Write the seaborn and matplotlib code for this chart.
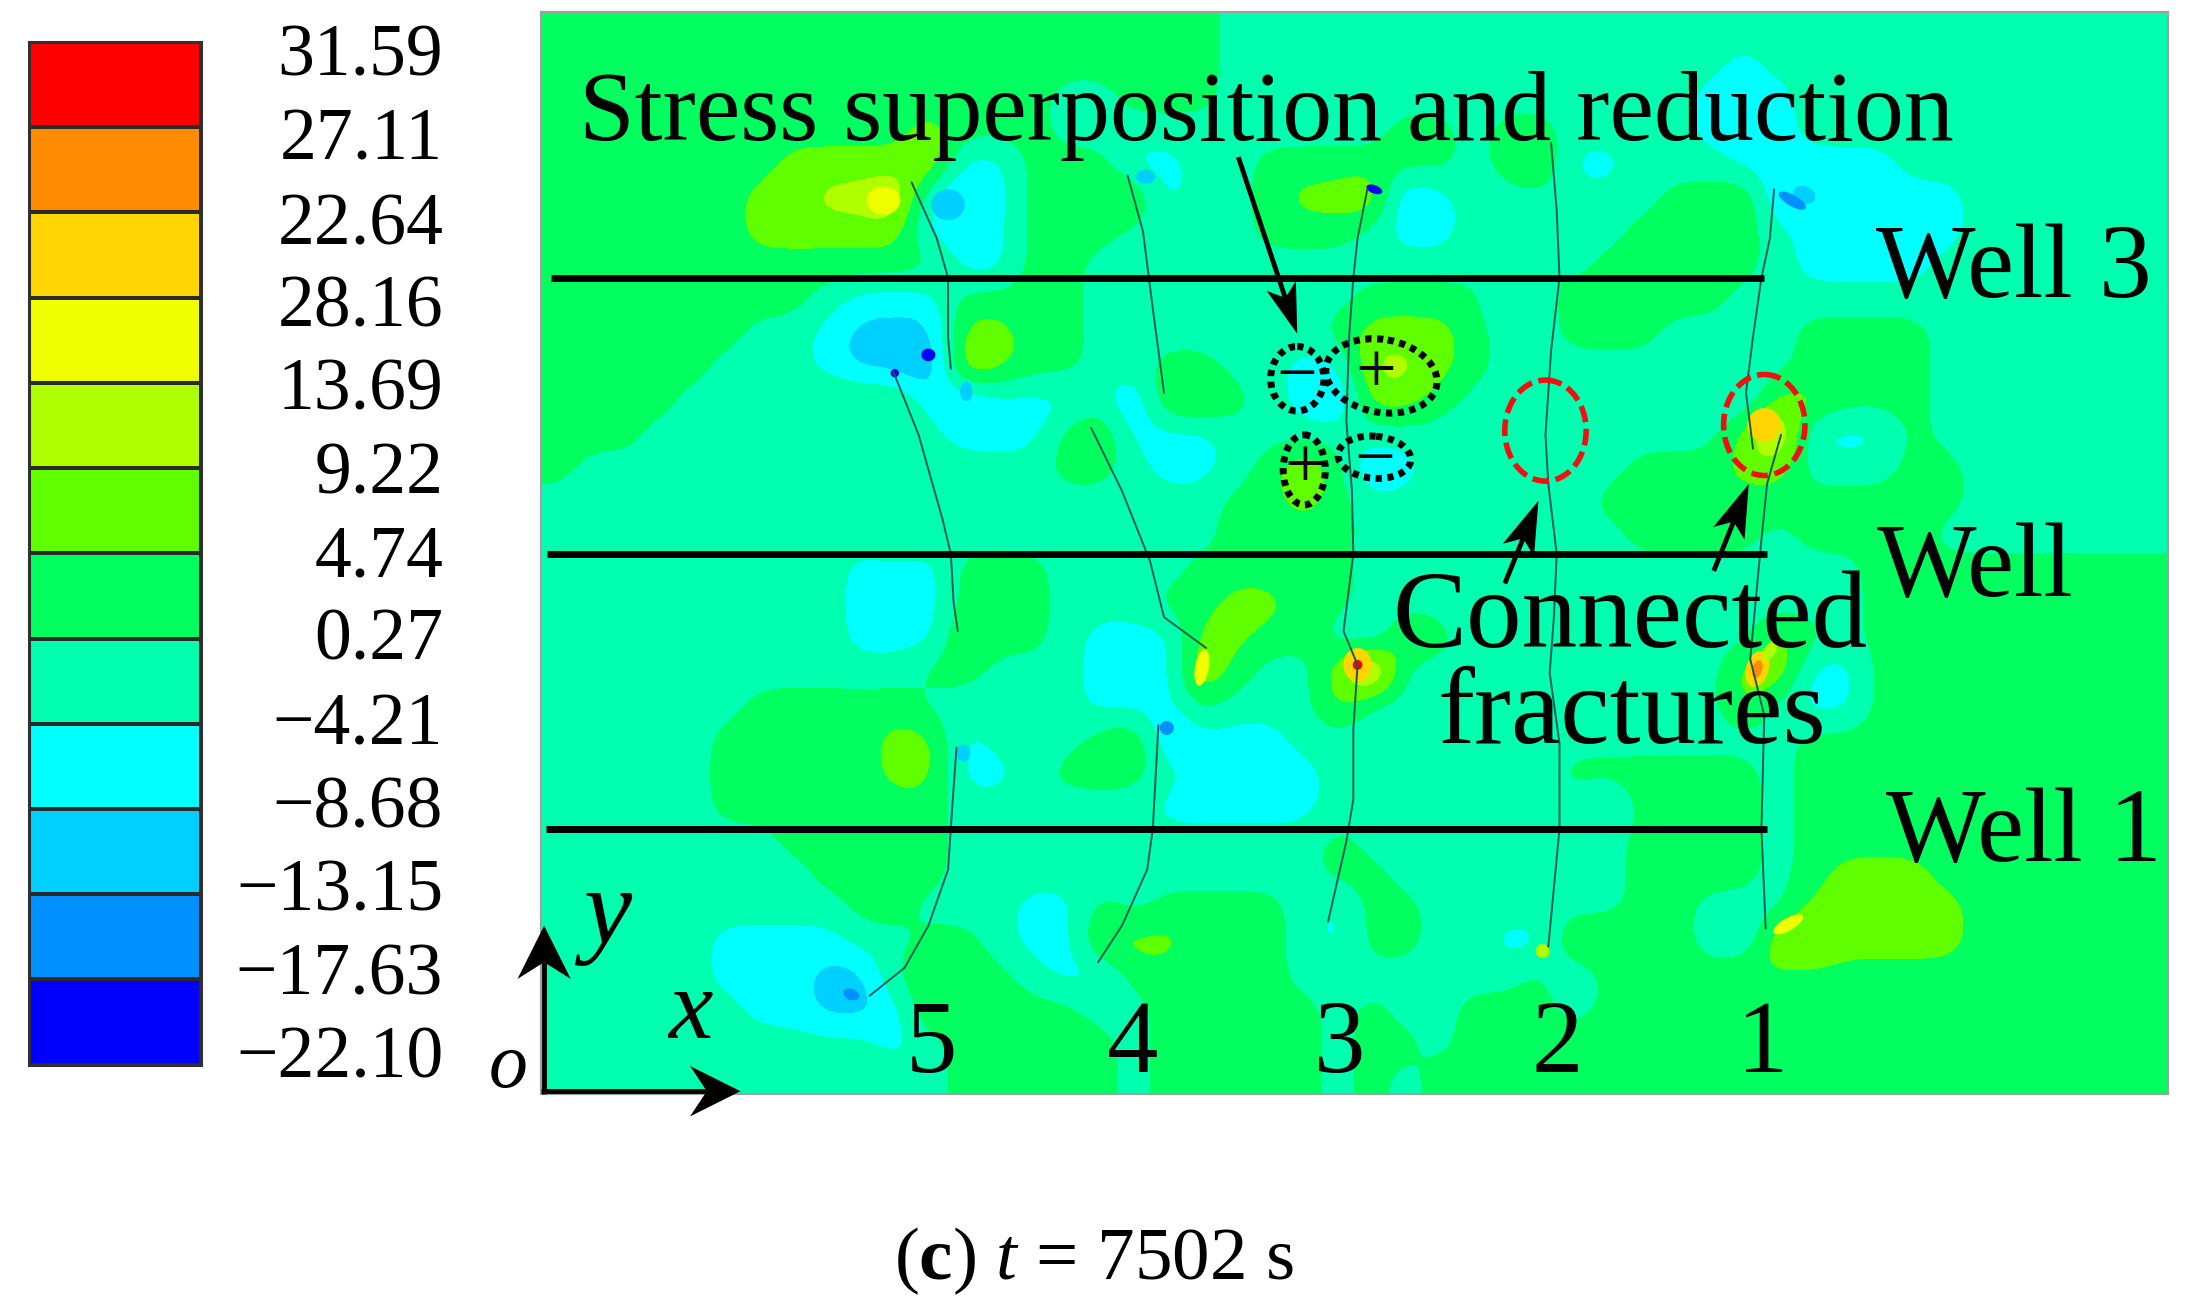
import numpy as np
import matplotlib
matplotlib.use("Agg")
import matplotlib.pyplot as plt
from matplotlib.colors import ListedColormap, BoundaryNorm
from matplotlib.patches import Ellipse, Polygon, Rectangle
import seaborn as sns

sns.set_theme(style="white")
plt.rcParams["font.family"] = ["Liberation Serif", "DejaVu Serif"]
plt.rcParams["text.color"] = "black"
plt.rcParams["mathtext.fontset"] = "custom"
plt.rcParams["mathtext.rm"] = "Liberation Serif"
plt.rcParams["mathtext.it"] = "Liberation Serif:italic"
plt.rcParams["mathtext.bf"] = "Liberation Serif:bold"

# ---------------- data ----------------
level_labels = ["31.59", "27.11", "22.64", "28.16", "13.69", "9.22", "4.74",
                "0.27", "\u22124.21", "\u22128.68", "\u221213.15", "\u221217.63", "\u221222.10"]
level_edges = [-22.10, -17.63, -13.15, -8.68, -4.21, 0.27, 4.74, 9.22, 13.69, 18.16, 22.64, 27.11, 31.59]
band_letters = "abcdefghijkl"
band_colors = ["#0000ff", "#0090ff", "#00d0ff", "#00ffff", "#00ffaf", "#00ff5f",
               "#60ff00", "#b0ff00", "#f0ff00", "#ffd500", "#ff8c00", "#ff0000"]

# stress band per coarse cell, row by row from the top, as runs
field_runs = [
    "f20 e28",
    "f20 e15 d1 e12",
    "f15 e2 f3 e14 d3 e11",
    "f11 g1 f3 e10 f2 e1 f2 e4 d3 e11",
    "f7 g4 h1 d2 f3 d2 e2 f6 e1 f1 g1 d2 e3 d5 e8",
    "f6 g2 h2 i1 d1 c1 d1 f2 g2 d1 e2 f1 g2 h1 c1 d1 e6 f2 g1 c2 d4 e6",
    "f6 g5 d3 f3 e4 f3 e1 d2 e5 f4 e1 d5 e6",
    "f12 d2 f2 e13 f1 e1 f5 e1 d4 e7",
    "f8 e1 d3 f4 e8 f4 d1 e1 f5 e13",
    "f6 e2 d1 c3 g2 f2 e7 f1 g3 f1 e2 f3 e4 f4 e7",
    "f5 e3 d1 c2 b1 h1 g1 f2 e2 f2 e2 d2 h2 g1 f1 e9 f4 e7",
    "f4 e4 f3 d1 c1 d3 e1 c1 g2 f1 e1 d1 c1 g2 f1 e8 d1 g2 f3 e7",
    "f3 e9 d3 f1 g1 d3 e15 g1 j1 d3 f1 e7",
    "f1 e14 f2 e1 d2 e1 f1 h1 f1 c1 d1 e6 f3 g2 e3 f2 e6",
    "e20 f2 g1 f1 e7 f11 e6",
    "e10 f1 e9 f4 e8 f4 e1 f4 e7",
    "e9 d3 f3 e4 f5 e15 f9",
    "e9 d3 f3 e3 f2 g2 f2 e15 f9",
    "e9 d3 g1 f2 e1 d3 g2 f2 e1 d1 g1 f1 e9 g1 f1 e1 f9",
    "e11 f2 e3 d3 h1 f1 e2 g1 k1 e10 g1 h1 d2 f9",
    "e6 f5 e5 d3 f1 e3 g1 e11 g1 e1 d2 f9",
    "e5 f5 g2 d1 e3 f1 g1 c1 d3 e15 f11",
    "e5 f5 g2 d2 e1 f3 e1 d4 e7 f6 e1 f11",
    "e5 f7 e6 d5 e5 f1 e2 d1 f4 e1 f11",
    "e7 f5 e11 f1 e8 f4 e1 f11",
    "e8 f4 e11 f2 e4 f1 e2 f4 e1 f1 g3 f7",
    "e9 f2 e3 d2 f1 e1 f4 e1 d1 f2 e6 f2 e3 g5 f6",
    "e5 d4 e2 f2 e1 d2 g3 f3 e1 d1 f2 e2 d2 g2 f2 e1 d1 h2 g4 f6",
    "e5 d3 c2 f4 e1 d2 f5 e7 f1 d1 f4 g1 f12",
    "e6 d2 c2 d1 g1 f4 e2 f5 e1 f1 e2 f3 e1 f17",
    "e10 d1 e1 f5 e1 f5 e1 f2 e1 f21",
    "e12 f5 e1 f5 e1 f1 e1 f22",
]

# small concentrated spots at fracture tips: x, y, width, height, angle, band
spot_x = [662, 638, 980, 1278, 968, 968, 1253, 1253, 1258, 630, 607, 832, 687, 817, 676, 1275, 857, 1262, 689, 1100]
spot_y = [253, 266, 135, 143, 474, 474, 477, 477, 303, 143, 709, 519, 537, 126, 146, 659, 476, 464, 279, 678]
spot_w = [10, 6, 12, 22, 20, 7, 16, 7, 24, 24, 12, 10, 10, 14, 24, 24, 10, 8, 9, 10]
spot_h = [9, 6, 6, 8, 24, 7, 26, 13, 24, 20, 8, 10, 12, 10, 22, 9, 26, 16, 14, 10]
spot_a = [0, 0, 20, 30, 0, 0, 15, 15, 0, 0, 20, 30, 0, 0, 0, -30, 10, 30, 0, 0]
spot_b = ["a", "a", "a", "b", "j", "l", "j", "k", "j", "i", "b", "b", "c", "c", "c", "i", "i", "h", "c", "h"]

# fracture traces
frac_traces = [
    ([650, 668, 676, 676, 678], [130, 170, 198, 240, 263]),
    ([637, 655, 672, 678, 680, 683], [265, 310, 370, 395, 430, 450]),
    ([682, 678, 676, 662, 645, 620], [533, 590, 620, 660, 690, 710]),
    ([804, 815, 822, 830], [125, 165, 220, 280]),
    ([778, 800, 820, 830, 860], [305, 350, 400, 440, 462]),
    ([826, 822, 818, 800, 783], [517, 591, 620, 660, 686]),
    ([975, 968, 965, 962, 960, 964, 965, 958, 968, 965, 965, 960, 947],
     [135, 170, 198, 240, 300, 350, 395, 450, 474, 520, 570, 600, 657]),
    ([1106, 1110, 1112, 1106, 1102, 1104, 1110, 1108, 1105, 1112, 1112, 1104],
     [102, 150, 198, 250, 310, 345, 395, 440, 480, 530, 591, 675]),
    ([1265, 1262, 1256, 1250, 1245, 1250], [135, 170, 198, 240, 280, 320]),
    ([1270, 1260, 1255, 1248, 1258, 1256, 1259], [310, 345, 395, 470, 510, 591, 662]),
]
well_y = [198, 395, 591]
well_x0 = [393, 390, 389]
well_x1 = [1258, 1260, 1260]
frac_numbers = ["5", "4", "3", "2", "1"]
frac_number_x = [664, 808, 955, 1110, 1257]

# ---------------- build ----------------
def expand(run):
    return [band_letters.index(tok[0]) for tok in run.split() for _ in range(int(tok[1:]))]

mids = [(level_edges[i] + level_edges[i + 1]) / 2 for i in range(12)]
Z = np.array([[mids[b] for b in expand(r)] for r in field_runs])

W, H = 2199, 1310
fig = plt.figure(figsize=(W / 100, H / 100), dpi=100, facecolor="white")
ax = fig.add_axes([0, 0, 1, 1])
ax.set_xlim(0, 1568)
ax.set_ylim(934, 0)
ax.axis("off")

cmap = ListedColormap(band_colors)
norm = BoundaryNorm(level_edges, 12)
ax.imshow(Z, extent=(386, 1546, 780, 9), cmap=cmap, norm=norm, aspect="auto",
          interpolation="bicubic", interpolation_stage="data", zorder=1)
ax.set_xlim(0, 1568)
ax.set_ylim(934, 0)
ax.add_patch(Rectangle((385.5, 8.5), 1160.5, 771.5, fill=False, ec="#a0a0a0", lw=1.6, zorder=2))

for x, y, w, h, a, b in zip(spot_x, spot_y, spot_w, spot_h, spot_a, spot_b):
    ax.add_patch(Ellipse((x, y), w, h, angle=a, fc=band_colors[band_letters.index(b)], ec="none", zorder=3))

for xs, ys in frac_traces:
    ax.plot(xs, ys, color="#175a58", lw=1.4, zorder=4)

for y, x0, x1 in zip(well_y, well_x0, well_x1):
    ax.plot([x0, x1], [y, y], color="black", lw=5, solid_capstyle="butt", zorder=5)

# colour bar
cax = fig.add_axes([21 / 1568, 1 - 759 / 934, 122 / 1568, 729 / 934])
bar = np.arange(12)[::-1].reshape(-1, 1)
sns.heatmap(bar, ax=cax, cmap=cmap, vmin=-0.5, vmax=11.5, cbar=False, xticklabels=False,
            yticklabels=False, linewidths=1.6, linecolor="#2a2a2a")
for s in cax.spines.values():
    s.set_visible(True)
    s.set_color("#303030")
    s.set_linewidth(2.2)

label_y = [37, 97, 157, 216, 275, 335, 394, 453, 514, 573, 632, 692, 751]
for t, y in zip(level_labels, label_y):
    ax.text(316, y + 17, t, ha="right", va="baseline", fontsize=53, color="black", zorder=6)

def stealth(x0, y0, x1, y1, head=48, half=15, notch=10, lw=3.5):
    d = np.array([x1 - x0, y1 - y0], float)
    L = np.hypot(*d)
    u = d / L
    n = np.array([-u[1], u[0]])
    tip = np.array([x1, y1], float)
    base = tip - u * head
    neck = tip - u * (head - notch)
    ax.plot([x0, neck[0]], [y0, neck[1]], color="black", lw=lw, solid_capstyle="butt", zorder=7)
    ax.add_patch(Polygon([tip, base + n * half, neck, base - n * half], closed=True, fc="black", ec="none", zorder=7))

stealth(883, 112, 925, 238, head=36, half=11, notch=9)
stealth(1073, 416, 1097, 357, head=38, half=12, notch=9)
stealth(1222, 407, 1247, 345, head=38, half=12, notch=9)
stealth(388, 780, 388, 660, head=38, half=19, notch=12, lw=3.5)
stealth(386, 778, 528, 778, head=36, half=18, notch=12, lw=3.5)

# dotted and dashed marks
for xy, w, h, a in [((925, 270), 38, 46, 0), ((985, 268), 80, 52, 10), ((930, 335), 30, 50, 0), ((980, 326), 52, 30, 5)]:
    ax.add_patch(Ellipse(xy, w, h, angle=a, fill=False, ec="black", lw=5, ls=(0, (0.9, 0.8)), zorder=6))
for xy in [(1102, 307), (1258, 303)]:
    ax.add_patch(Ellipse(xy, 58, 72, fill=False, ec="#f01010", lw=4, ls=(0, (3, 1.2)), zorder=6))
for t, x, y in [("\u2212", 925, 270), ("+", 981, 267), ("+", 930, 335), ("\u2212", 980, 330)]:
    ax.text(x, y, t, ha="center", va="center", fontsize=52, color="black", zorder=8)

ax.text(413, 100, "Stress superposition and reduction", fontsize=72, ha="left", va="baseline", zorder=8)
ax.text(1338, 212, "Well 3", fontsize=76, ha="left", va="baseline", zorder=8)
ax.text(1338, 425, "Well", fontsize=76, ha="left", va="baseline", zorder=8)
ax.text(1345, 614, "Well 1", fontsize=76, ha="left", va="baseline", zorder=8)
ax.text(1162, 461, "Connected", fontsize=80, ha="center", va="baseline", zorder=8)
ax.text(1164, 530, "fractures", fontsize=80, ha="center", va="baseline", zorder=8)
for t, x in zip(frac_numbers, frac_number_x):
    ax.text(x, 764, t, fontsize=74, ha="center", va="baseline", zorder=8)
ax.text(433, 672, "y", fontsize=78, style="italic", ha="center", va="baseline", zorder=8)
ax.text(492, 740, "x", fontsize=72, style="italic", ha="center", va="baseline", zorder=8)
ax.text(362, 775, "o", fontsize=56, style="italic", ha="center", va="baseline", zorder=8)
ax.text(780, 912, "(" + r"$\mathbf{c}$" + ") " + r"$\mathit{t}$" + " = 7502 s",
        fontsize=54, ha="center", va="baseline", zorder=8)

fig.savefig("out.png", dpi=100, facecolor="white")
